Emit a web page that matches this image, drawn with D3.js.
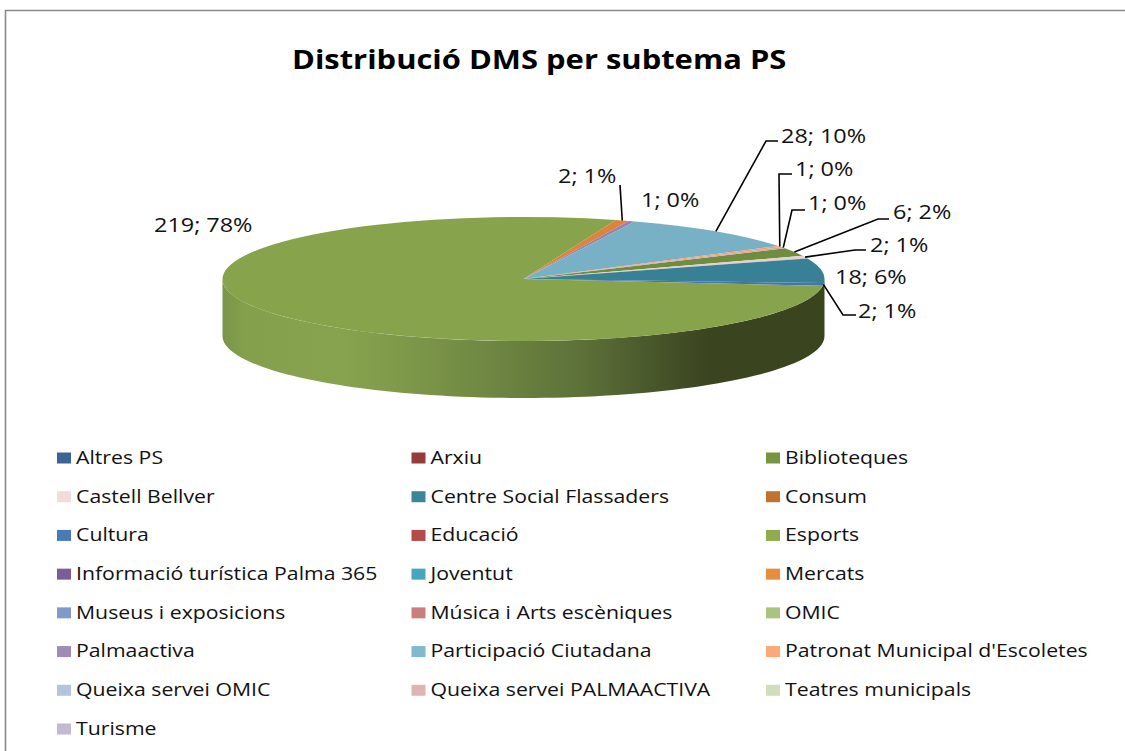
<!DOCTYPE html>
<html><head><meta charset="utf-8">
<script src="https://cdnjs.cloudflare.com/ajax/libs/d3/7.8.5/d3.min.js"></script>
<style>html,body{margin:0;padding:0;background:#fff}svg{display:block}text{font-family:"Open Sans",sans-serif;fill:#111}</style>
</head><body><svg id="c" width="1125" height="751"></svg>
<script>
const titleText = "Distribució DMS per subtema PS";
const categories = ["Altres PS","Arxiu","Biblioteques","Castell Bellver","Centre Social Flassaders","Consum","Cultura","Educació","Esports","Informació turística Palma 365","Joventut","Mercats","Museus i exposicions","Música i Arts escèniques","OMIC","Palmaactiva","Participació Ciutadana","Patronat Municipal d'Escoletes","Queixa servei OMIC","Queixa servei PALMAACTIVA","Teatres municipals","Turisme"];
const values = [0,0,6,2,18,0,2,0,219,0,0,2,0,0,0,1,28,1,0,1,0,0];
const colors = ["#3d6496","#963c3a","#779441","#f2dcdb","#3a879c","#c0732f","#4a7ab5","#b54b49","#8fac4f","#7a5c99","#46a5bf","#e88c3d","#7f9cc9","#cb7f7d","#aac47f","#a08bb5","#7fbace","#f9aa76","#b4c4e0","#e0b4b3","#d0dfba","#c4b9d3"];
// label placement, keyed by category: text anchor and optional elbow start / bend of the leader line
const labelLayout = {
  "Esports":{x:154,y:227},
  "Mercats":{x:558,y:178,line:[[620,185],[620,185]]},
  "Palmaactiva":{x:641,y:202},
  "Participació Ciutadana":{x:781,y:138,line:[[778,141],[766,141]]},
  "Patronat Municipal d'Escoletes":{x:795,y:171,line:[[792,174],[779,174]]},
  "Queixa servei PALMAACTIVA":{x:808,y:205,line:[[805,210],[792,210]]},
  "Biblioteques":{x:893,y:214,line:[[889,219],[878,219]]},
  "Castell Bellver":{x:870,y:247,line:[[866,250],[855,250]]},
  "Centre Social Flassaders":{x:835,y:279},
  "Cultura":{x:858,y:313,line:[[856,315],[843,315]]}
};
const svg = d3.select("#c");
const W=1125,H=751;
const cx=523.5, cy=279, rx=301, ry=62, depth=57;
const firstAngle = 60.3*Math.PI/180;

// stretch text horizontally, as in the reference
function stretch(sel,k){sel.each(function(){const t=d3.select(this);
  t.attr("textLength",this.getComputedTextLength()*k).attr("lengthAdjust","spacingAndGlyphs");});}

// frame
svg.append("path").attr("d",`M5.5,${H}V10.5H${W}`).attr("fill","none").attr("stroke","#8a8a8a").attr("stroke-width",1.6);

svg.append("text").attr("x",292).attr("y",61.5).attr("dominant-baseline","middle")
  .attr("font-size",27).attr("font-weight",700).style("fill","#000").text(titleText).call(stretch,1.145);

const data = categories.map((c,i)=>({c,v:values[i],col:colors[i]}));
const pie = d3.pie().sort(null).value(d=>d.v).startAngle(firstAngle).endAngle(firstAngle+2*Math.PI);
const arcs = pie(data);
const total = d3.sum(values);

const px = a=>cx+rx*Math.sin(a), py=(a,d=0)=>cy-ry*Math.cos(a)+d;

// side wall gradient
const defs = svg.append("defs");
const g = defs.append("linearGradient").attr("id","wall").attr("gradientUnits","userSpaceOnUse")
  .attr("x1",cx-rx).attr("x2",cx+rx).attr("y1",0).attr("y2",0);
[[0,"#7a9549"],[0.04,"#85a04d"],[0.2,"#87a34e"],[0.3,"#7f994a"],[0.45,"#6e8642"],[0.6,"#5c7038"],[0.75,"#434f27"],[0.81,"#3a451f"],[1,"#3a451f"]]
  .forEach(s=>g.append("stop").attr("offset",s[0]).attr("stop-color",s[1]));

const wallAngles = d3.range(91).map(i=>Math.PI/2+i*Math.PI/90);
const wallLine = d3.line().x(d=>d[0]).y(d=>d[1]);
const wallPts = wallAngles.map(a=>[px(a),py(a,depth)]).concat(wallAngles.slice().reverse().map(a=>[px(a),py(a)]));
svg.append("path").attr("d",wallLine(wallPts)+"Z").attr("fill","url(#wall)");

// top face
const arc = d3.arc().innerRadius(0).outerRadius(rx);
const topFace = svg.append("g").attr("transform",`translate(${cx},${cy}) scale(1,${ry/rx})`);
topFace.selectAll("path").data(arcs.filter(a=>a.data.v>0)).join("path")
  .attr("d",arc)
  .attr("fill",d=>{const k=d3.rgb(d.data.col);return d3.rgb(k.r*.945,k.g*.945,k.b*.955).formatHex();});

// leader lines & labels
arcs.filter(a=>a.data.v>0).forEach(a=>{
  const l = labelLayout[a.data.c]; if(!l) return;
  const mid=(a.startAngle+a.endAngle)/2;
  if(l.line){
    const pts=[...l.line,[px(mid),py(mid)]];
    svg.append("path").attr("d",d3.line()(pts)).attr("fill","none").attr("stroke","#000").attr("stroke-width",1.6);
  }
  svg.append("text").attr("x",l.x).attr("y",l.y).attr("dominant-baseline","middle").attr("font-size",19.5)
    .text(`${a.data.v}; ${Math.round(a.data.v/total*100)}%`).call(stretch,1.2);
});

// legend
const colX = d3.scalePoint().domain([0,1,2]).range([57,766]);
const rowY = d3.scaleLinear().domain([0,7]).range([458,729]);
const leg = svg.selectAll("g.leg").data(data).join("g").attr("class","leg")
  .attr("transform",(d,i)=>`translate(${colX(i%3)},${rowY(Math.floor(i/3))})`);
leg.append("rect").attr("x",0).attr("y",-5.5).attr("width",14).attr("height",11).attr("fill",d=>d.col);
leg.append("text").attr("x",19).attr("y",1).attr("dominant-baseline","middle").attr("font-size",18).text(d=>d.c).call(stretch,1.18);
</script></body></html>
